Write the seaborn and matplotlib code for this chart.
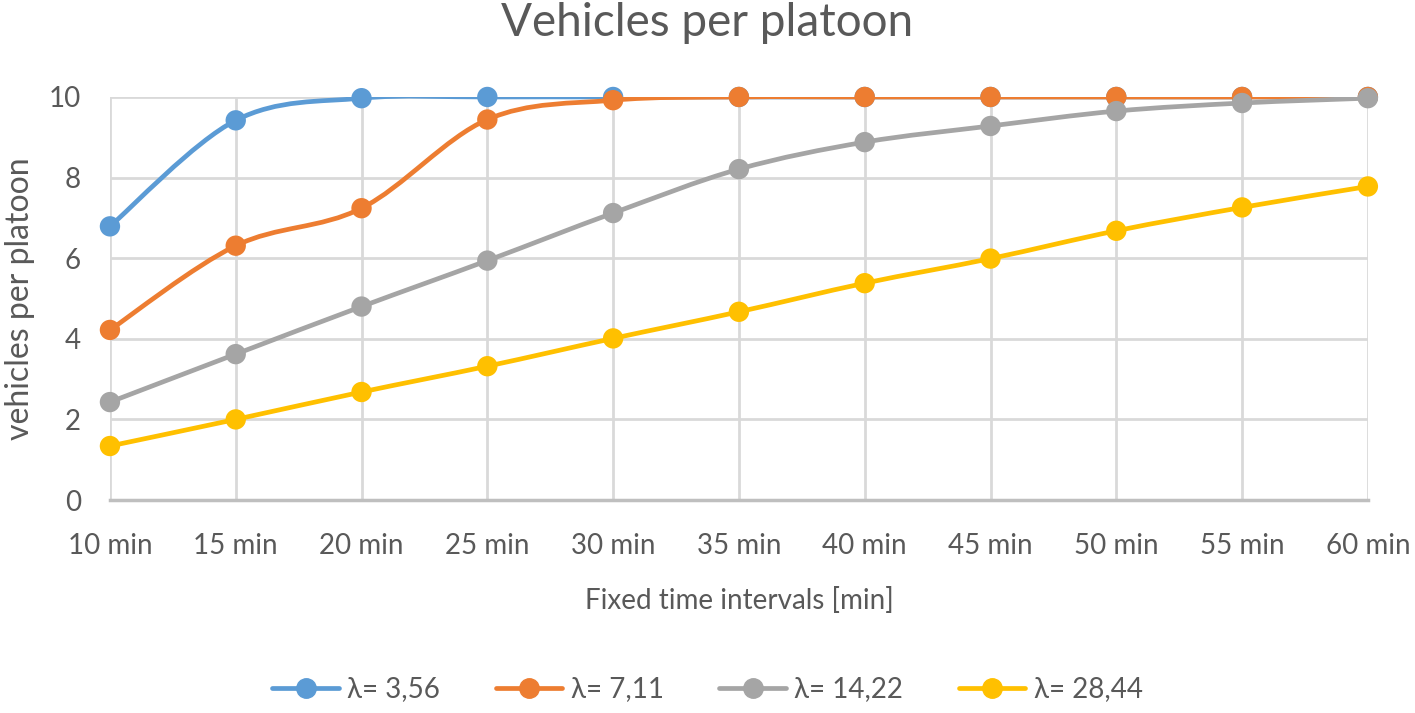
import numpy as np
import pandas as pd
import seaborn as sns
import matplotlib.pyplot as plt
from matplotlib.path import Path
from matplotlib.patches import PathPatch
from matplotlib.lines import Line2D

# Datos
minutos = [10, 15, 20, 25, 30, 35, 40, 45, 50, 55, 60]
etiquetas_x = [f"{m} min" for m in minutos]
lambda_3_56 = [6.79, 9.42, 9.97, 10.0, 10.0, 10.0, 10.0, 10.0, 10.0, 10.0, 10.0]
lambda_7_11 = [4.22, 6.31, 7.24, 9.44, 9.92, 10.0, 10.0, 10.0, 10.0, 10.0, 10.0]
lambda_14_22 = [2.43, 3.62, 4.80, 5.94, 7.12, 8.21, 8.88, 9.28, 9.65, 9.85, 9.97]
lambda_28_44 = [1.34, 2.00, 2.68, 3.32, 4.01, 4.67, 5.38, 5.99, 6.68, 7.26, 7.78]

series = ["λ= 3,56", "λ= 7,11", "λ= 14,22", "λ= 28,44"]
colores = ["#5B9BD5", "#ED7D31", "#A5A5A5", "#FFC000"]

df = pd.DataFrame({
    "minutos": minutos * 4,
    "valor": lambda_3_56 + lambda_7_11 + lambda_14_22 + lambda_28_44,
    "serie": np.repeat(series, len(minutos)),
})

sns.set_theme(style="white")
plt.rcParams["font.family"] = ["Lato", "DejaVu Sans"]
texto = "#595959"


def curva_suave(x, y):
    # Curva tipo Excel (Catmull-Rom convertida a Bezier cubica)
    pts = np.column_stack([x, y]).astype(float)
    ext = np.vstack([pts[0], pts, pts[-1]])
    verts = [pts[0]]
    codes = [Path.MOVETO]
    for i in range(1, len(ext) - 2):
        p0, p1, p2, p3 = ext[i - 1], ext[i], ext[i + 1], ext[i + 2]
        c1 = p1 + (p2 - p0) / 6
        c2 = p2 - (p3 - p1) / 6
        verts += [c1, c2, p2]
        codes += [Path.CURVE4] * 3
    return Path(verts, codes)


fig = plt.figure(figsize=(14.15, 7.13), dpi=100)
ax = fig.add_axes([0.0777, 0.2987, 0.889, 0.5653])

for i, (nombre, color) in enumerate(zip(series, colores)):
    sub = df[df["serie"] == nombre]
    patch = PathPatch(curva_suave(sub["minutos"], sub["valor"]), facecolor="none",
                      edgecolor=color, lw=3.4, zorder=3 + 2 * i, capstyle="round")
    ax.add_patch(patch)
    sns.scatterplot(data=sub, x="minutos", y="valor", color=color, s=215,
                    edgecolor="none", ax=ax, zorder=4 + 2 * i, legend=False,
                    clip_on=False)

ax.set_xlim(10, 60)
ax.set_ylim(0, 10)
ax.set_xticks(minutos)
ax.set_xticklabels(etiquetas_x)
ax.set_yticks([0, 2, 4, 6, 8, 10])
ax.grid(True, color="#D9D9D9", lw=2)
ax.set_axisbelow(True)
for lado in ["top", "right", "left"]:
    ax.spines[lado].set_visible(False)
ax.spines["bottom"].set_color("#BFBFBF")
ax.spines["bottom"].set_linewidth(2.5)
ax.tick_params(axis="both", length=0, labelsize=20, colors=texto)
ax.tick_params(axis="y", pad=21)
ax.tick_params(axis="x", pad=24)

ax.set_xlabel("Fixed time intervals [min]", fontsize=20, color=texto, labelpad=20)
ax.set_ylabel("vehicles per platoon", fontsize=23, color=texto, labelpad=10)
fig.suptitle("Vehicles per platoon", fontsize=33, color=texto, y=0.997)

handles = [Line2D([0], [0], color=c, lw=3.4, marker="o", markersize=14) for c in colores]
fig.legend(handles, series, loc="center", bbox_to_anchor=(0.5, 0.033), ncol=4,
           frameon=False, fontsize=20, labelcolor=texto, handlelength=2.4,
           columnspacing=2.0, handletextpad=0.3)

plt.savefig("out.png", dpi=100)
plt.close()
